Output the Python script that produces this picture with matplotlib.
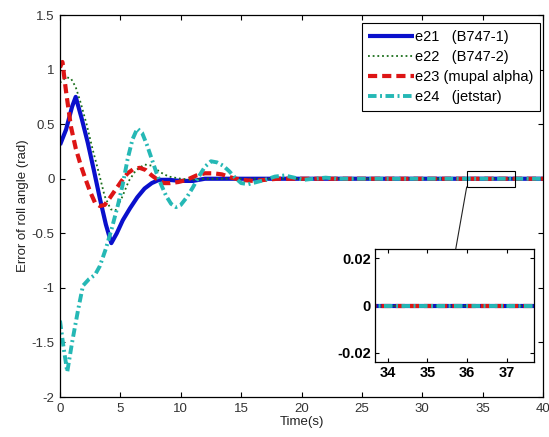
import matplotlib.pyplot as plt
from matplotlib.patches import Rectangle, ConnectionPatch

plt.rcParams['font.family'] = ['Liberation Sans', 'DejaVu Sans']

# e21 (B747-1)
t21 = [0, 0.5, 1.0, 1.3, 1.8, 2.3, 2.8, 3.3, 3.8, 4.25, 4.7, 5.2, 5.8, 6.4, 7.0, 7.6, 8.2, 9, 10, 11, 12, 15, 20, 25, 30, 35, 40]
e21 = [0.31, 0.45, 0.66, 0.75, 0.55, 0.33, 0.08, -0.18, -0.42, -0.59, -0.50, -0.38, -0.27, -0.17, -0.09, -0.04, -0.01, -0.01, -0.02, -0.02, 0.0, 0.0, 0, 0, 0, 0, 0]

# e22 (B747-2)
t22 = [0, 0.5, 0.9, 1.3, 1.7, 2.2, 2.7, 3.2, 3.7, 4.2, 4.6, 5.1, 5.7, 6.3, 7.0, 7.6, 8.3, 9.0, 10, 11, 12, 15, 20, 40]
e22 = [0.88, 0.93, 0.92, 0.84, 0.70, 0.50, 0.27, 0.06, -0.16, -0.28, -0.29, -0.18, -0.02, 0.08, 0.13, 0.12, 0.06, 0.02, 0.0, -0.01, 0.0, 0, 0, 0]

# e23 (mupal alpha)
t23 = [0, 0.2, 0.5, 0.9, 1.3, 1.7, 2.1, 2.5, 2.9, 3.3, 3.7, 4.1, 4.6, 5.1, 5.6, 6.1, 6.6, 7.1, 7.6, 8.1, 8.6, 9.1, 9.8,
       10.5, 11.3, 12.0, 12.7, 13.4, 14.2, 15.0, 16, 17, 18, 20, 25, 40]
e23 = [1.02, 1.07, 0.80, 0.48, 0.28, 0.13, 0.0, -0.12, -0.22, -0.25, -0.24, -0.18, -0.10, -0.02, 0.05, 0.09, 0.10, 0.08, 0.03, -0.01, -0.04, -0.04, -0.03,
       -0.01, 0.03, 0.05, 0.05, 0.04, 0.01, -0.01, -0.02, -0.01, 0.0, 0.0, 0, 0]

# e24 (jetstar)
t24 = [0, 0.3, 0.6, 1.0, 1.5, 1.9, 2.4, 2.9, 3.3, 3.8, 4.3, 4.8, 5.2, 5.6, 6.0, 6.4, 6.8, 7.2, 7.6, 8.0, 8.4, 8.8, 9.2, 9.6,
       10.0, 10.5, 11.0, 11.5, 12.0, 12.5, 13.0, 13.5, 14.0, 14.5, 15.0, 15.6, 16.3, 17.0, 17.8, 18.6, 19.4, 20.2, 21, 22, 23, 25, 40]
e24 = [-1.30, -1.55, -1.77, -1.50, -1.20, -0.98, -0.92, -0.88, -0.80, -0.64, -0.45, -0.24, -0.05, 0.18, 0.36, 0.46, 0.42, 0.31, 0.18, 0.05, -0.06, -0.16, -0.23, -0.26,
       -0.24, -0.17, -0.08, 0.02, 0.11, 0.16, 0.15, 0.12, 0.07, 0.01, -0.04, -0.05, -0.03, -0.01, 0.02, 0.03, 0.01, -0.01, 0.0, 0.01, 0.0, 0, 0]

labels = ['e21   (B747-1)', 'e22   (B747-2)', 'e23 (mupal alpha)', 'e24   (jetstar)']
yticks = [-2, -1.5, -1, -0.5, 0, 0.5, 1, 1.5]
ytick_labels = ['-2', '-1.5', '-1', '-0.5', '0', '0.5', '1', '1.5']
zoom_x = (33.68, 37.68)
zoom_y = (-0.024, 0.024)
zoom_box_y = (-0.075, 0.075)

fig = plt.figure(figsize=(5.49, 4.37), dpi=100)
ax = fig.add_axes([0.1093, 0.0915, 0.8798, 0.8741])


def draw(a):
    a.plot(t21, e21, color='#0a10cc', lw=3, solid_capstyle='butt')
    a.plot(t22, e22, color='#1a6e1a', lw=1.3, dashes=(1, 1.6))
    a.plot(t23, e23, color='#dd1515', lw=3, dashes=(2.2, 1.2))
    a.plot(t24, e24, color='#25b8b5', lw=2.8, dashes=(2.2, 0.9, 0.5, 0.9))


draw(ax)
ax.set_xlim(0, 40)
ax.set_ylim(-2, 1.5)
ax.set_xticks(range(0, 41, 5))
ax.set_yticks(yticks)
ax.set_yticklabels(ytick_labels)
ax.tick_params(direction='in', top=True, right=True, length=3.5, width=0.8,
               labelsize=9.5, labelcolor='#333333', pad=4)
for s in ax.spines.values():
    s.set_linewidth(0.9)
ax.set_xlabel('Time(s)', fontsize=9.5, color='#222222', labelpad=1)
ax.set_ylabel('Error of roll angle (rad)', fontsize=9.5, color='#222222', labelpad=2)

leg = ax.legend(labels, loc='upper right', bbox_to_anchor=(0.9938, 0.979),
                fontsize=10.5, handlelength=3.1, handletextpad=0.1,
                borderpad=0.45, labelspacing=0.42, fancybox=False, framealpha=1,
                borderaxespad=0)
leg.get_frame().set_edgecolor('black')
leg.get_frame().set_linewidth(0.8)

# zoom box on main axes
ax.add_patch(Rectangle((zoom_x[0], zoom_box_y[0]), zoom_x[1] - zoom_x[0],
                       zoom_box_y[1] - zoom_box_y[0], fill=False,
                       edgecolor='black', lw=0.8, zorder=5))

# inset
ax_in = fig.add_axes([0.683, 0.1716, 0.2896, 0.2586])
draw(ax_in)
ax_in.set_xlim(*zoom_x)
ax_in.set_ylim(*zoom_y)
ax_in.set_xticks([34, 35, 36, 37])
ax_in.set_yticks([-0.02, 0, 0.02])
ax_in.set_yticklabels(['-0.02', '0', '0.02'])
ax_in.tick_params(direction='in', top=True, right=True, length=3, width=0.8,
                  labelsize=10.5, pad=3)
for lab in ax_in.get_xticklabels() + ax_in.get_yticklabels():
    lab.set_fontweight('bold')
for s in ax_in.spines.values():
    s.set_linewidth(0.9)

con = ConnectionPatch(xyA=(zoom_x[0], zoom_box_y[0]), coordsA=ax.transData,
                      xyB=(0.508, 1.0), coordsB=ax_in.transAxes,
                      color='#222222', lw=0.8)
fig.add_artist(con)

fig.savefig('out.png', dpi=100)
